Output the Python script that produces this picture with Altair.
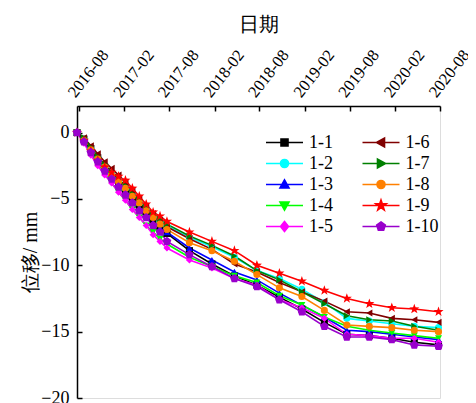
import math
import altair as alt
import pandas as pd

# ---------------- data ----------------
dates = ["2016-07-24", "2016-08-21", "2016-09-18", "2016-10-16", "2016-11-13",
         "2016-12-11", "2017-01-08", "2017-02-05", "2017-03-05", "2017-04-02",
         "2017-04-30", "2017-05-28", "2017-06-25", "2017-07-23", "2017-10-22",
         "2018-01-21", "2018-04-22", "2018-07-22", "2018-10-21", "2019-01-20",
         "2019-04-21", "2019-07-21", "2019-10-20", "2020-01-19", "2020-04-19",
         "2020-07-26"]

series_names = ["1-1", "1-2", "1-3", "1-4", "1-5", "1-6", "1-7", "1-8", "1-9", "1-10"]

s1_1 = [0, -0.5, -1.2, -1.9, -2.6, -3.2, -3.8, -4.4, -5.0, -5.6, -6.2, -6.7, -7.2, -7.6,
        -8.9, -9.9, -10.8, -11.5, -12.4, -13.3, -14.3, -15.2, -15.3, -15.5, -15.8, -16.0]
s1_2 = [0, -0.5, -1.2, -1.9, -2.5, -3.1, -3.6, -4.2, -4.7, -5.3, -5.8, -6.3, -6.7, -7.0,
        -7.9, -8.6, -9.4, -10.4, -11.0, -11.8, -12.8, -14.0, -14.2, -14.4, -14.6, -14.7]
s1_3 = [0, -0.5, -1.3, -2.0, -2.7, -3.3, -3.9, -4.5, -5.1, -5.7, -6.3, -6.8, -7.2, -7.5,
        -8.7, -9.6, -10.5, -11.1, -12.1, -13.0, -13.9, -14.9, -15.0, -15.2, -15.4, -15.6]
s1_4 = [0, -0.7, -1.6, -2.4, -3.1, -3.8, -4.5, -5.1, -5.8, -6.4, -7.0, -7.5, -8.0, -8.4,
        -9.4, -10.1, -10.8, -11.3, -12.3, -13.0, -13.9, -14.6, -14.9, -15.1, -15.3, -15.5]
s1_5 = [0, -0.8, -1.7, -2.5, -3.2, -3.8, -4.5, -5.1, -5.8, -6.4, -7.0, -7.7, -8.2, -8.7,
        -9.6, -10.2, -11.0, -11.5, -12.6, -13.2, -14.0, -15.2, -15.3, -15.5, -15.5, -15.8]
s1_6 = [0, -0.4, -1.0, -1.6, -2.2, -2.7, -3.2, -3.8, -4.4, -5.0, -5.6, -6.1, -6.6, -7.1,
        -8.0, -8.8, -9.9, -10.5, -11.3, -12.0, -12.7, -13.5, -13.6, -14.0, -14.1, -14.3]
s1_7 = [0, -0.4, -1.1, -1.8, -2.4, -3.0, -3.5, -4.0, -4.6, -5.1, -5.6, -6.1, -6.5, -6.9,
        -7.8, -8.5, -9.3, -10.4, -11.1, -12.0, -12.9, -13.8, -14.1, -14.2, -14.6, -14.9]
s1_8 = [0, -0.6, -1.3, -2.0, -2.6, -3.2, -3.7, -4.2, -4.8, -5.3, -5.9, -6.4, -6.9, -7.3,
        -8.3, -8.9, -9.7, -10.7, -11.7, -12.35, -13.4, -14.5, -14.6, -14.7, -14.9, -15.0]
s1_9 = [0, -0.6, -1.4, -2.1, -2.6, -3.0, -3.3, -3.6, -4.2, -4.8, -5.4, -6.0, -6.3, -6.7,
        -7.5, -8.2, -8.9, -10.0, -10.6, -11.2, -11.9, -12.5, -12.9, -13.2, -13.3, -13.5]
s1_10 = [0, -0.7, -1.5, -2.2, -2.9, -3.5, -4.1, -4.7, -5.3, -5.9, -6.4, -7.0, -7.5, -8.2,
         -9.2, -10.1, -11.0, -11.6, -12.6, -13.5, -14.6, -15.4, -15.4, -15.6, -16.0, -16.1]

all_series = [s1_1, s1_2, s1_3, s1_4, s1_5, s1_6, s1_7, s1_8, s1_9, s1_10]

x_tick_labels = ["2016-08", "2017-02", "2017-08", "2018-02", "2018-08",
                 "2019-02", "2019-08", "2020-02", "2020-08"]
y_ticks = [0, -5, -10, -15, -20]

colors = ["#000000", "#00FFFF", "#0000FF", "#00FF00", "#FF00FF",
          "#800000", "#008000", "#FF8000", "#FF0000", "#9900CC"]

rows = []
for name, vals in zip(series_names, all_series):
    for d, v in zip(dates, vals):
        rows.append({"date": d, "series": name, "disp": v})
df = pd.DataFrame(rows)

# ---------------- marker shapes ----------------
def star(ro, ri):
    pts = []
    for k in range(10):
        a = math.radians(-90 + 36 * k)
        r = ro if k % 2 == 0 else ri
        pts.append(f"{r*math.cos(a):.3f},{r*math.sin(a):.3f}")
    return "M" + "L".join(pts) + "Z"

def poly(r, n):
    pts = []
    for k in range(n):
        a = math.radians(-90 + 360 / n * k)
        pts.append(f"{r*math.cos(a):.3f},{r*math.sin(a):.3f}")
    return "M" + "L".join(pts) + "Z"

chart_shapes = ["square", "circle", "triangle-up", "triangle-down", "diamond",
                "triangle-left", "triangle-right", "circle", star(1.5, 0.6), poly(1.3, 5)]

LINE = "M-1.85,0H1.85"
legend_shapes = [
    LINE + "M-0.35,-0.35H0.35V0.35H-0.35Z",
    LINE + "M-0.4,0A0.4,0.4,0,1,0,0.4,0A0.4,0.4,0,1,0,-0.4,0Z",
    LINE + "M0,-0.45L0.45,0.35L-0.45,0.35Z",
    LINE + "M0,0.45L0.45,-0.35L-0.45,-0.35Z",
    LINE + "M0,-0.5L0.4,0L0,0.5L-0.4,0Z",
    LINE + "M-0.45,0L0.35,-0.45L0.35,0.45Z",
    LINE + "M0.45,0L-0.35,-0.45L-0.35,0.45Z",
    LINE + "M-0.4,0A0.4,0.4,0,1,0,0.4,0A0.4,0.4,0,1,0,-0.4,0Z",
    LINE + star(0.55, 0.22),
    LINE + poly(0.45, 5),
]

FONT = "Liberation Serif"

tick_dates = [alt.DateTime(year=int(s[:4]), month=int(s[5:]), date=1) for s in x_tick_labels]
xscale = alt.Scale(domain=[alt.DateTime(year=2016, month=7, date=24),
                           alt.DateTime(year=2020, month=8, date=1)])
yscale = alt.Scale(domain=[-20, 2], nice=False, zero=False)

x_main = alt.Axis(orient="top", values=tick_dates, format="%Y-%m", labelAngle=-52,
                  labelAlign="left", labelBaseline="middle", labelOffset=-8,
                  labelOverlap=False, labelBound=False, labelFlush=False,
                  ticks=False, domain=True,
                  domainColor="black", domainWidth=1.5, grid=False, title="日期",
                  titleFont=FONT, titleFontSize=20, titleFontWeight="normal",
                  titleColor="black", titlePadding=12,
                  labelFont=FONT, labelFontSize=16.5, labelColor="black", labelPadding=11)
y_main = alt.Axis(orient="left", values=y_ticks, ticks=False, domain=True,
                  domainColor="black", domainWidth=1.5, grid=False, title="位移/ mm",
                  titleFont=FONT, titleFontSize=20, titleFontWeight="normal",
                  titleColor="black", titlePadding=0, labelOverlap=False,
                  labelFont=FONT, labelFontSize=18, labelColor="black", labelPadding=8)
x_ticks_ax = alt.Axis(orient="top", values=tick_dates, labels=False, domain=False, ticks=True,
                      tickSize=5, tickColor="black", tickWidth=1.5, offset=-5, grid=False,
                      title=None)
y_ticks_ax = alt.Axis(orient="left", values=y_ticks, labels=False, domain=False, ticks=True,
                      tickSize=5, tickColor="black", tickWidth=1.5, offset=-5, grid=False,
                      title=None)

color_scale = alt.Scale(domain=series_names, range=colors)

base = alt.Chart(df)

lines = base.mark_line(strokeWidth=1.6).encode(
    x=alt.X("date:T", scale=xscale, axis=x_main),
    y=alt.Y("disp:Q", scale=yscale, axis=y_main),
    color=alt.Color("series:N", scale=color_scale, legend=None),
    detail="series:N",
)

points = base.mark_point(filled=True, size=50, opacity=1).encode(
    x=alt.X("date:T", scale=xscale, axis=x_ticks_ax),
    y=alt.Y("disp:Q", scale=yscale, axis=y_ticks_ax),
    color=alt.Color("series:N", scale=color_scale, legend=None),
    shape=alt.Shape("series:N", scale=alt.Scale(domain=series_names, range=chart_shapes),
                    legend=None),
)

leg = alt.Legend(orient="none", legendX=196.5, legendY=25.5, columns=2, direction="vertical",
                 title=None, symbolSize=400, symbolStrokeWidth=1.6, symbolOpacity=1,
                 labelFont=FONT, labelFontSize=18, labelColor="black", labelOffset=13.5,
                 columnPadding=25.5, rowPadding=1, padding=0, labelLimit=100)

legend_layer = base.mark_point(opacity=0).encode(
    x=alt.X("date:T", scale=xscale, axis=None),
    y=alt.Y("disp:Q", scale=yscale, axis=None),
    shape=alt.Shape("series:N", scale=alt.Scale(domain=series_names, range=legend_shapes),
                    legend=leg),
    fill=alt.Fill("series:N", scale=alt.Scale(domain=series_names, range=colors), legend=leg),
    stroke=alt.Stroke("series:N", scale=alt.Scale(domain=series_names, range=colors), legend=leg),
)

chart = alt.layer(lines, points, legend_layer).resolve_scale(
    shape="independent", fill="independent", stroke="independent"
).resolve_axis(x="independent", y="independent").properties(
    width=363, height=292,
    padding={"left": 69, "top": 98, "right": 28, "bottom": 10},
    autosize=alt.AutoSizeParams(type="none"),
).configure_view(stroke=None).configure(background="white")

chart.save("out.html", embed_options={"renderer": "svg", "actions": False})
